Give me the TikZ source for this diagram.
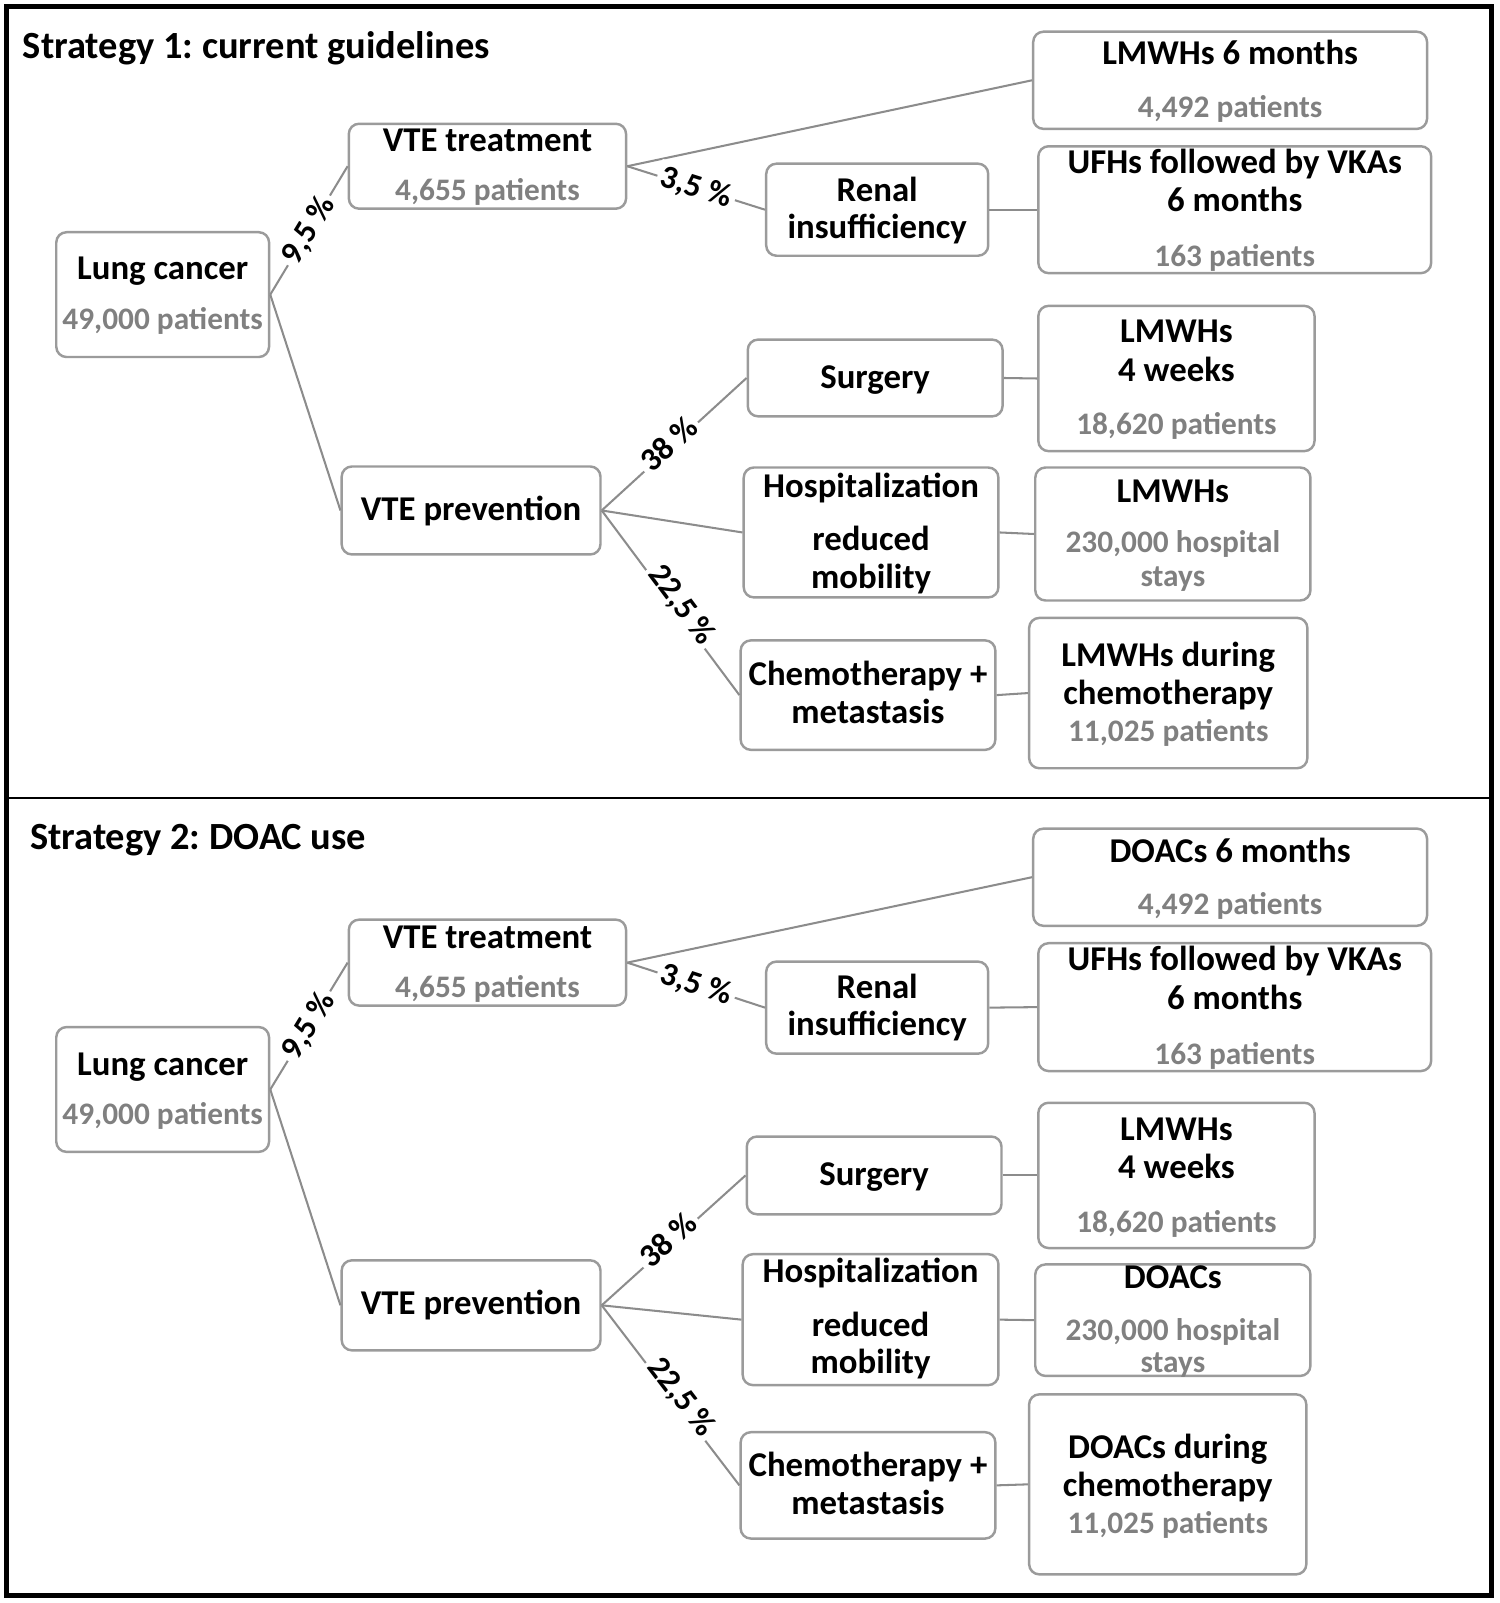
\documentclass[tikz,border=0pt]{standalone}
\usepackage{fontspec}
\setmainfont{Carlito}
\usetikzlibrary{fit}
\definecolor{boxgray}{RGB}{155,155,155}
\definecolor{linegray}{RGB}{140,140,140}
\definecolor{txtgray}{RGB}{128,128,128}
\frenchspacing
\begin{document}
\begin{tikzpicture}[x=0.5pt,y=-0.5pt,
 box/.style={draw=boxgray, line width=1.2pt, rounded corners=5pt, inner sep=0pt},
 tb/.style={anchor=base, inner sep=0pt, font=\fontsize{17}{20}\selectfont\bfseries, text=black},
 tg/.style={anchor=base, inner sep=0pt, font=\fontsize{15.3}{18}\selectfont\bfseries, text=txtgray},
 ttl/.style={anchor=base west, inner sep=0pt, font=\fontsize{18.8}{22}\selectfont\bfseries},
 conn/.style={draw=linegray, line width=1pt},
 pct/.style={midway, sloped, fill=white, inner sep=2pt, font=\fontsize{16}{19}\selectfont\bfseries}
]
\useasboundingbox (0,0) rectangle (1466,1567);
\draw[line width=2.5pt] (6,6) rectangle (1458,1560);
\draw[line width=1.3pt] (6,780) -- (1458,780);

% ---------------- Strategy 1 ----------------
\node[ttl] (t1) at (22,57) {Strategy 1: current guidelines};

\node[box, fit={(55,227) (263,349)}] (lc1) {};
\node[box, fit={(341,121) (612,204)}] (vt1) {};
\node[box, fit={(1010,31) (1395,126)}] (m61) {};
\node[box, fit={(749,160) (966,250)}] (ri1) {};
\node[box, fit={(1015,143) (1399,267)}] (uf1) {};
\node[box, fit={(334,456) (587,542)}] (vp1) {};
\node[box, fit={(731,332) (980,407)}] (su1) {};
\node[box, fit={(1015,299) (1285,441)}] (l41) {};
\node[box, fit={(727,457) (976,584)}] (ho1) {};
\node[box, fit={(1012,457) (1281,587)}] (lh1) {};
\node[box, fit={(724,626) (973,733)}] (ch1) {};
\node[box, fit={(1006,604) (1278,751)}] (ld1) {};

\draw[conn] (lc1.east) -- node[pct] (p11) {9,5 \%} (vt1.west);
\draw[conn] (lc1.east) -- (vp1.west);
\draw[conn] (vt1.east) -- (m61.west);
\draw[conn] (vt1.east) -- node[pct] (p12) {3,5 \%} (ri1.west);
\draw[conn] (ri1.east) -- (uf1.west);
\draw[conn] (vp1.east) -- node[pct, shift={(-4,-4)}] (p13) {38 \%} (su1.west);
\draw[conn] (vp1.east) -- (ho1.west);
\draw[conn] (vp1.east) -- node[pct, shift={(8,-7)}] (p14) {22,5 \%} (ch1.west);
\draw[conn] (su1.east) -- (l41.west);
\draw[conn] (ho1.east) -- (lh1.west);
\draw[conn] (ch1.east) -- (ld1.west);

\node[tb] (lc1a) at (159,273.5) {Lung cancer};
\node[tg] (lc1b) at (159,322) {49,000 patients};
\node[tb] (vt1a) at (476.5,148) {VTE treatment};
\node[tg] (vt1b) at (476.5,196) {4,655 patients};
\node[tb] (m61a) at (1202.5,63.5) {LMWHs 6 months};
\node[tg] (m61b) at (1202.5,115) {4,492 patients};
\node[tb] (ri1a) at (857.5,197) {Renal};
\node[tb] (ri1b) at (857.5,233) {insufficiency};
\node[tb] (uf1a) at (1207,169.5) {UFHs followed by VKAs};
\node[tb] (uf1b) at (1207,207) {6 months};
\node[tg] (uf1c) at (1207,261) {163 patients};
\node[tb] (vp1a) at (460.5,508.5) {VTE prevention};
\node[tb] (su1a) at (855.5,380) {Surgery};
\node[tb] (l41a) at (1150,335) {LMWHs};
\node[tb] (l41b) at (1150,372.5) {4 weeks};
\node[tg] (l41c) at (1150,424.5) {18,620 patients};
\node[tb] (ho1a) at (851.5,486) {Hospitalization};
\node[tb] (ho1b) at (851.5,538) {reduced};
\node[tb] (ho1c) at (851.5,575.5) {mobility};
\node[tb] (lh1a) at (1146.5,491) {LMWHs};
\node[tg] (lh1b) at (1146.5,540) {230,000 hospital};
\node[tg] (lh1c) at (1146.5,573) {stays};
\node[tb] (ch1a) at (848.5,670.5) {Chemotherapy +};
\node[tb] (ch1b) at (848.5,707.5) {metastasis};
\node[tb] (ld1a) at (1142,652) {LMWHs during};
\node[tb] (ld1b) at (1142,689) {chemotherapy};
\node[tg] (ld1c) at (1142,724.5) {11,025 patients};

% ---------------- Strategy 2 ----------------
\node[ttl] (t2) at (29,830) {Strategy 2: DOAC use};

\node[box, fit={(55,1004) (263,1126)}] (lc2) {};
\node[box, fit={(341,899) (612,983)}] (vt2) {};
\node[box, fit={(1010,810) (1395,905)}] (m62) {};
\node[box, fit={(749,940) (966,1030)}] (ri2) {};
\node[box, fit={(1015,922) (1399,1047)}] (uf2) {};
\node[box, fit={(334,1232) (587,1320)}] (vp2) {};
\node[box, fit={(730,1111) (979,1187)}] (su2) {};
\node[box, fit={(1015,1078) (1285,1220)}] (l42) {};
\node[box, fit={(726,1226) (976,1354)}] (ho2) {};
\node[box, fit={(1012,1236) (1281,1345)}] (dh2) {};
\node[box, fit={(724,1400) (973,1504)}] (ch2) {};
\node[box, fit={(1006,1363) (1277,1539)}] (dd2) {};

\draw[conn] (lc2.east) -- node[pct] (p21) {9,5 \%} (vt2.west);
\draw[conn] (lc2.east) -- (vp2.west);
\draw[conn] (vt2.east) -- (m62.west);
\draw[conn] (vt2.east) -- node[pct] (p22) {3,5 \%} (ri2.west);
\draw[conn] (ri2.east) -- (uf2.west);
\draw[conn] (vp2.east) -- node[pct, shift={(-4,-4)}] (p23) {38 \%} (su2.west);
\draw[conn] (vp2.east) -- (ho2.west);
\draw[conn] (vp2.east) -- node[pct, shift={(8,-7)}] (p24) {22,5 \%} (ch2.west);
\draw[conn] (su2.east) -- (l42.west);
\draw[conn] (ho2.east) -- (dh2.west);
\draw[conn] (ch2.east) -- (dd2.west);

\node[tb] (lc2a) at (159,1051.5) {Lung cancer};
\node[tg] (lc2b) at (159,1099) {49,000 patients};
\node[tb] (vt2a) at (476.5,927.5) {VTE treatment};
\node[tg] (vt2b) at (476.5,975) {4,655 patients};
\node[tb] (m62a) at (1202.5,843) {DOACs 6 months};
\node[tg] (m62b) at (1202.5,894) {4,492 patients};
\node[tb] (ri2a) at (857.5,976.5) {Renal};
\node[tb] (ri2b) at (857.5,1012.5) {insufficiency};
\node[tb] (uf2a) at (1207,949) {UFHs followed by VKAs};
\node[tb] (uf2b) at (1207,986.5) {6 months};
\node[tg] (uf2c) at (1207,1040.5) {163 patients};
\node[tb] (vp2a) at (460.5,1285) {VTE prevention};
\node[tb] (su2a) at (854.5,1159) {Surgery};
\node[tb] (l42a) at (1150,1115) {LMWHs};
\node[tb] (l42b) at (1150,1152.5) {4 weeks};
\node[tg] (l42c) at (1150,1204.5) {18,620 patients};
\node[tb] (ho2a) at (851,1254) {Hospitalization};
\node[tb] (ho2b) at (851,1306) {reduced};
\node[tb] (ho2c) at (851,1343) {mobility};
\node[tb] (dh2a) at (1146.5,1260) {DOACs};
\node[tg] (dh2b) at (1146.5,1310) {230,000 hospital};
\node[tg] (dh2c) at (1146.5,1342) {stays};
\node[tb] (ch2a) at (848.5,1443) {Chemotherapy +};
\node[tb] (ch2b) at (848.5,1480) {metastasis};
\node[tb] (dd2a) at (1141.5,1426) {DOACs during};
\node[tb] (dd2b) at (1141.5,1463) {chemotherapy};
\node[tg] (dd2c) at (1141.5,1499) {11,025 patients};
\end{tikzpicture}
\end{document}
